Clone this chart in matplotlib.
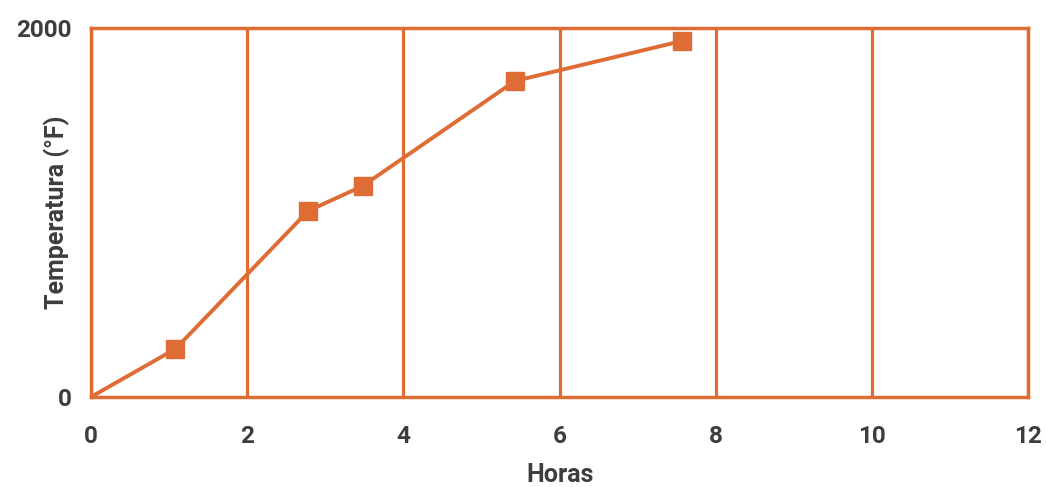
import matplotlib.pyplot as plt

# Heating curve: temperature vs. time
horas = [0, 1.08, 2.78, 3.48, 5.43, 7.57]
temperatura = [0, 260, 1008, 1144, 1713, 1930]

x_ticks = [0, 2, 4, 6, 8, 10, 12]
y_ticks = [0, 2000]

ORANGE = '#E06C35'
TEXT = '#3d3d3d'

plt.rcParams['font.family'] = ['Roboto', 'DejaVu Sans']

fig = plt.figure(figsize=(10.46, 4.87), dpi=100)
ax = fig.add_axes([0.087, 0.185, 0.896, 0.7575])

ax.plot(horas, temperatura, color=ORANGE, linewidth=2.8, zorder=3)
ax.plot(horas[1:], temperatura[1:], linestyle='none', marker='s',
        markersize=13, color=ORANGE, zorder=4)

ax.set_xlim(0, 12)
ax.set_ylim(0, 2000)
ax.set_xticks(x_ticks)
ax.set_yticks(y_ticks)

# vertical grid lines only
ax.grid(axis='x', color=ORANGE, linewidth=2.3)
ax.set_axisbelow(True)

for spine in ax.spines.values():
    spine.set_color(ORANGE)
    spine.set_linewidth(2.5)

ax.tick_params(length=0, labelsize=17.5, labelcolor=TEXT)
ax.tick_params(axis='x', pad=20)
ax.tick_params(axis='y', pad=14)
for lbl in ax.get_xticklabels() + ax.get_yticklabels():
    lbl.set_fontweight('bold')

ax.set_xlabel('Horas', fontsize=18, fontweight='bold', color=TEXT, labelpad=11)
ax.set_ylabel('Temperatura (°F)', fontsize=18, fontweight='bold', color=TEXT)
ax.yaxis.set_label_coords(-0.022, 0.5)

fig.savefig('out.png', dpi=100)
